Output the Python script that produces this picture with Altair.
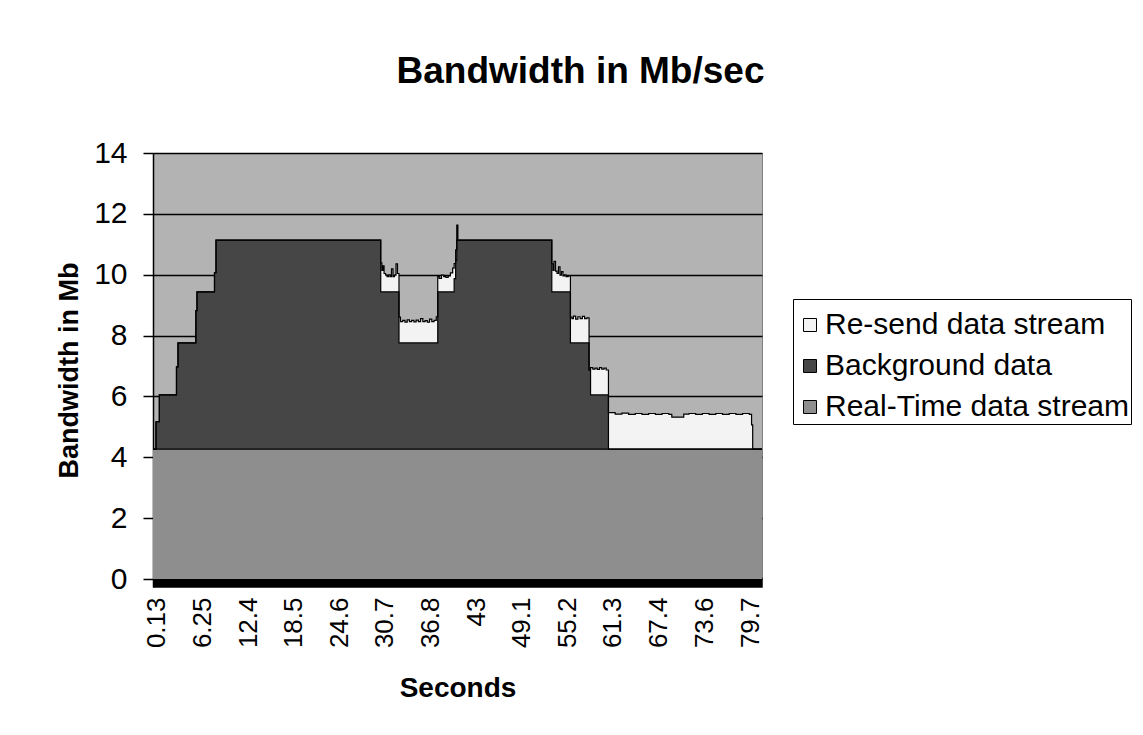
import altair as alt
import pandas as pd

# ---- data (step-after samples) ----
seconds = [
    -0.4, 0.0, 0.45, 2.75, 2.95, 5.35, 5.5, 7.85, 8.05,
    30.15, 30.3, 30.45, 30.6, 30.8, 31.0, 31.2, 31.4, 31.6, 31.8, 32.0, 32.2, 32.4,
    32.6, 32.8, 33.1, 33.4, 33.7, 34.0, 34.3, 34.6, 34.9, 35.2, 35.5, 35.8, 36.1, 36.4, 36.7, 37.0, 37.3, 37.6,
    37.8, 38.0, 38.3, 38.6, 38.9, 39.2, 39.5, 39.8,
    40.0, 40.2, 40.35, 40.5,
    53.1, 53.25, 53.4, 53.6, 53.8, 54.0, 54.2, 54.4, 54.6, 54.8, 55.0, 55.3,
    55.6, 55.8, 56.0, 56.3, 56.6, 56.9, 57.2, 57.5, 57.8,
    58.1, 58.3, 58.6, 58.9, 59.2, 59.5, 59.8, 60.1, 60.4,
    60.7, 61.6, 62.5, 63.4, 64.3, 65.2, 66.1, 67.0, 67.9, 68.8, 69.2, 70.8,
    71.5, 72.4, 73.3, 74.2, 75.1, 76.0, 76.9, 77.8, 78.7, 79.6, 79.9, 80.05,
    81.0, 81.3,
]
realtime = [4.27] * 108 + [2.1, 2.1]
background = [
    0.0, 0.9, 1.78, 2.7, 3.49, 4.55, 5.17, 5.8, 6.87,
    5.17, 5.17, 5.17, 5.17, 5.17, 5.17, 5.17, 5.17, 5.17, 5.17, 5.17, 5.17, 5.17,
    3.49, 3.49, 3.49, 3.49, 3.49, 3.49, 3.49, 3.49, 3.49, 3.49, 3.49, 3.49, 3.49, 3.49, 3.49, 3.49, 3.49, 3.49,
    5.17, 5.17, 5.17, 5.17, 5.17, 5.17, 5.17, 5.17,
    5.6, 6.2, 6.87, 6.87,
    5.17, 5.17, 5.17, 5.17, 5.17, 5.17, 5.17, 5.17, 5.17, 5.17, 5.17, 5.17,
    3.49, 3.49, 3.49, 3.49, 3.49, 3.49, 3.49, 3.49, 3.49,
    2.6, 1.78, 1.78, 1.78, 1.78, 1.78, 1.78, 1.78, 1.78,
    0, 0, 0, 0, 0, 0, 0, 0, 0, 0, 0, 0,
    0, 0, 0, 0, 0, 0, 0, 0, 0, 0, 0, 0,
    0, 0,
]
resend = [
    0, 0, 0, 0, 0, 0, 0, 0, 0,
    0.95, 0.7, 0.85, 0.6, 0.55, 0.5, 0.56, 0.5, 0.75, 0.5, 0.55, 0.92, 0.6,
    0.85, 0.7, 0.74, 0.68, 0.76, 0.7, 0.74, 0.69, 0.75, 0.7, 0.8, 0.7, 0.73, 0.68, 0.78, 0.7, 0.74, 0.86,
    0.5, 0.44, 0.55, 0.5, 0.47, 0.52, 0.62, 0.78,
    0.5, 0.35, 0.49, 0.0,
    0.92, 0.7, 1.0, 0.68, 0.6, 0.82, 0.55, 0.66, 0.52, 0.56, 0.5, 0.52,
    0.85, 0.8, 0.88, 0.78, 0.86, 0.8, 0.87, 0.8, 0.82,
    0.0, 0.9, 0.85, 0.88, 0.84, 0.9, 0.85, 0.88, 0.82,
    1.2, 1.15, 1.18, 1.14, 1.17, 1.14, 1.17, 1.14, 1.17, 1.14, 1.05, 1.15,
    1.17, 1.14, 1.17, 1.14, 1.17, 1.14, 1.17, 1.14, 1.17, 1.14, 0.8, 0.0,
    0, 0,
]

series_names = ["Re-send data stream", "Background data", "Real-Time data stream"]
series_colors = ["#f3f3f3", "#464646", "#8e8e8e"]
x_tick_values = [0.13, 6.25, 12.4, 18.5, 24.6, 30.7, 36.8, 43, 49.1, 55.2, 61.3, 67.4, 73.6, 79.7]
y_tick_values = [0, 2, 4, 6, 8, 10, 12, 14]

rows = []
for t, rt, bg, rs in zip(seconds, realtime, background, resend):
    rows.append({"Seconds": t, "series": series_names[2], "lo": 0.0, "hi": rt})
    rows.append({"Seconds": t, "series": series_names[1], "lo": rt, "hi": rt + bg})
    rows.append({"Seconds": t, "series": series_names[0], "lo": rt + bg, "hi": rt + bg + rs})
df = pd.DataFrame(rows)

FONT = "Liberation Sans"

x_enc = alt.X(
    "Seconds:Q",
    scale=alt.Scale(domain=[-0.4, 81.3], nice=False, zero=False),
    axis=alt.Axis(
        title="Seconds", values=x_tick_values, format=".3~g", labelAngle=-90,
        labelFont=FONT, labelFontSize=26, labelColor="black", labelPadding=15,
        ticks=False, tickSize=0, grid=False,
        domainColor="black", domainWidth=10, offset=-5,
        titleFont=FONT, titleFontSize=28, titleFontWeight="bold", titleColor="black",
        titlePadding=27, labelOverlap=False,
    ),
)
y_enc = alt.Y(
    "hi:Q",
    scale=alt.Scale(domain=[-0.26, 14], nice=False, zero=False),
    axis=alt.Axis(
        title="Bandwidth in Mb", values=y_tick_values, format="d",
        labelFont=FONT, labelFontSize=30, labelColor="black", labelPadding=16,
        tickSize=10, tickColor="black", tickWidth=1.5,
        domainColor="black", domainWidth=1.5,
        grid=True, gridColor="black", gridWidth=1.5,
        titleFont=FONT, titleFontSize=27, titleFontWeight="bold", titleColor="black",
        titlePadding=10,
    ),
)

areas = alt.Chart(df).mark_area(interpolate="step-after", opacity=1).encode(
    x=x_enc,
    y=y_enc,
    y2="lo:Q",
    color=alt.Color(
        "series:N",
        scale=alt.Scale(domain=series_names, range=series_colors),
        legend=alt.Legend(
            title=" ", titleFontSize=9, titlePadding=0,
            orient="none", legendX=640, legendY=146,
            labelFont=FONT, labelFontSize=30, labelColor="black", labelOffset=0,
            labelLimit=0,
            symbolType="square", symbolSize=169, symbolStrokeColor="black",
            symbolStrokeWidth=1, symbolOpacity=1,
            strokeColor="black", fillColor="white", padding=2, rowPadding=11,
        ),
    ),
)

outlines = alt.Chart(df).mark_line(interpolate="step-after", color="black", strokeWidth=1.2).encode(
    x=x_enc,
    y=y_enc,
    detail="series:N",
)

chart = alt.layer(areas, outlines).properties(
    width=609,
    height=434,
    padding={"left": 145, "top": 145, "right": 373, "bottom": 140},
    autosize=alt.AutoSizeParams(type="none"),
    title=alt.Title(
        "Bandwidth in Mb/sec", font=FONT, fontSize=37, fontWeight="bold", color="black",
        anchor="middle", dx=123, offset=47,
    ),
    background="white",
).configure_view(fill="#b3b3b3", stroke="#808080", strokeWidth=1)

chart.save("out.html", embed_options={"renderer": "svg", "actions": False})
